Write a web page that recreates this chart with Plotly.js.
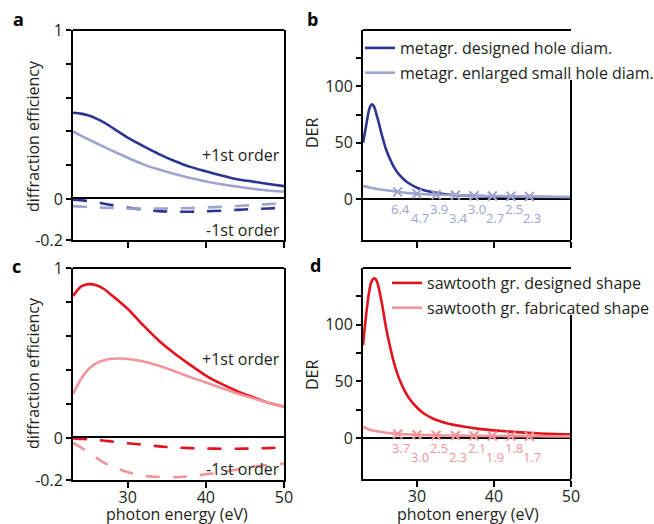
<!DOCTYPE html>
<html>
<head>
<meta charset="utf-8">
<script src="https://cdn.plot.ly/plotly-3.0.1.min.js"></script>
<style>html,body{margin:0;padding:0;background:#fff;}#chart{width:654px;height:524px;}</style>
</head>
<body>
<div id="chart"></div>
<script>
// ---------------- data ----------------
const energy = [23,24,25,26,27,28,29,30,32,34,36,38,40,42,44,46,48,50];
// panel a: metagrating diffraction efficiency
const metaDesignedPlus1  = [0.51,0.505,0.494,0.476,0.452,0.423,0.393,0.363,0.313,0.266,0.225,0.19,0.164,0.139,0.117,0.103,0.089,0.076];
const metaEnlargedPlus1  = [0.40,0.375,0.352,0.33,0.308,0.286,0.265,0.244,0.205,0.174,0.148,0.124,0.104,0.087,0.073,0.061,0.05,0.043];
const metaDesignedMinus1 = [-0.003,-0.006,-0.01,-0.016,-0.023,-0.03,-0.036,-0.042,-0.052,-0.059,-0.062,-0.062,-0.06,-0.057,-0.053,-0.049,-0.046,-0.043];
const metaEnlargedMinus1 = [-0.035,-0.037,-0.039,-0.041,-0.043,-0.044,-0.045,-0.046,-0.047,-0.047,-0.046,-0.044,-0.041,-0.038,-0.034,-0.03,-0.025,-0.021];
// panel c: sawtooth diffraction efficiency
const sawDesignedPlus1   = [0.835,0.89,0.905,0.898,0.875,0.838,0.80,0.76,0.662,0.572,0.497,0.43,0.367,0.318,0.276,0.241,0.207,0.184];
const sawFabPlus1        = [0.26,0.345,0.405,0.44,0.458,0.466,0.468,0.465,0.45,0.425,0.393,0.358,0.327,0.294,0.262,0.234,0.207,0.184];
const sawDesignedMinus1  = [-0.002,-0.004,-0.006,-0.009,-0.013,-0.017,-0.021,-0.025,-0.032,-0.04,-0.045,-0.048,-0.05,-0.051,-0.051,-0.05,-0.048,-0.045];
const sawFabMinus1       = [-0.023,-0.045,-0.068,-0.095,-0.118,-0.135,-0.15,-0.163,-0.18,-0.186,-0.187,-0.182,-0.173,-0.162,-0.15,-0.137,-0.128,-0.122];
// DER curves
const energyDER = [23,23.25,23.5,23.75,24,24.25,24.5,24.75,25,25.25,25.5,25.75,26,26.5,27,27.5,28,28.5,29,30,31,32,33,34,35,36,38,40,42,44,46,48,50];
const metaDesignedDER = [50,59,69,78,83,84,81,75,69,62,55.5,49.5,44,35.5,28.5,23.4,19.5,16.3,13.8,10,7.7,6.2,4.9,4.0,3.5,3.1,2.6,2.3,2.0,1.9,1.75,1.6,1.5];
const sawDesignedDER  = [82,99,114,127,136,140,141,139,134,126,117,107,97,81,67,56,47.5,40.5,35,27,21.3,17.6,15,13,11.5,10.2,8.2,6.9,5.8,4.9,4.1,3.6,3.2];
const energyDERlow = [23,24,25,26,27,28,29,30,31,32,33,34,35,36,37,38,39,40,42,44,46,48,50];
const metaEnlargedDER = [11.5,10.0,8.8,7.8,6.9,6.0,5.3,4.75,4.35,4.05,3.8,3.58,3.4,3.22,3.06,2.93,2.8,2.68,2.5,2.35,2.22,2.1,2.0];
const sawFabDER       = [9.8,7.3,5.8,4.8,4.0,3.5,3.2,3.0,2.8,2.6,2.45,2.37,2.3,2.2,2.12,2.04,1.96,1.9,1.81,1.73,1.65,1.58,1.5];
// marked points
const markerEnergy = [27.5,30.0,32.5,35.0,37.4,39.8,42.2,44.6];
const metaRatio    = [6.4,4.7,3.9,3.4,3.0,2.7,2.5,2.3];
const sawRatio     = [3.7,3.0,2.5,2.3,2.1,1.9,1.8,1.7];
// tick labels
const energyTicks = [30,40,50];
const effTicks = [0,0.2,0.4,0.6,0.8,1];
const effTickText = ['0','','','','','1'];
const derTicks = [0,25,50,75,100,125];
const derTickText = ['0','','50','','100',''];

// ---------------- style ----------------
const W = 654, H = 524;
const X = px => px / W;
const Y = py => 1 - py / H;
const FONT = 'Open Sans, Noto Sans, sans-serif';
const C = {navy:'#2b3590', lav:'#9ea3d0', red:'#e3131e', pink:'#f2949a', ink:'#000', text:'#231f20'};
const dash = '14px,13px';

function line(x, y, color, xa, ya, opts) {
  return Object.assign({x:x, y:y, xaxis:xa, yaxis:ya, type:'scatter', mode:'lines',
    line:{color:color, width:2.6, shape:'spline', smoothing:0.6}, showlegend:false, hoverinfo:'skip'}, opts||{});
}
function dashed(x, y, color, xa, ya) {
  return line(x, y, color, xa, ya, {line:{color:color, width:2.6, dash:dash, shape:'spline', smoothing:0.6}});
}
const traces = [
  line(energy, metaDesignedPlus1, C.navy, 'x', 'y'),
  line(energy, metaEnlargedPlus1, C.lav, 'x', 'y'),
  dashed(energy, metaDesignedMinus1, C.navy, 'x', 'y2'),
  dashed(energy, metaEnlargedMinus1, C.lav, 'x', 'y2'),
  line(energyDER, metaDesignedDER, C.navy, 'x2', 'y3', {showlegend:true, name:'metagr. designed hole diam.', legend:'legend', legendgroup:'m1'}),
  line(energyDERlow, metaEnlargedDER, C.lav, 'x2', 'y3', {showlegend:true, name:'metagr. enlarged small hole diam.', legend:'legend', legendgroup:'m2'}),
  {x:markerEnergy, y:metaRatio, xaxis:'x2', yaxis:'y3', type:'scatter', mode:'markers', showlegend:false, hoverinfo:'skip',
   marker:{symbol:'x-thin', size:9, color:C.lav, line:{color:C.lav, width:2}}},
  line(energy, sawDesignedPlus1, C.red, 'x3', 'y4'),
  line(energy, sawFabPlus1, C.pink, 'x3', 'y4'),
  dashed(energy, sawDesignedMinus1, C.red, 'x3', 'y5'),
  dashed(energy, sawFabMinus1, C.pink, 'x3', 'y5'),
  line(energyDER, sawDesignedDER, C.red, 'x4', 'y6', {showlegend:true, name:'sawtooth gr. designed shape', legend:'legend2', legendgroup:'s1'}),
  line(energyDERlow, sawFabDER, C.pink, 'x4', 'y6', {showlegend:true, name:'sawtooth gr. fabricated shape', legend:'legend2', legendgroup:'s2'}),
  {x:markerEnergy, y:sawRatio, xaxis:'x4', yaxis:'y6', type:'scatter', mode:'markers', showlegend:false, hoverinfo:'skip',
   marker:{symbol:'x-thin', size:9, color:C.pink, line:{color:C.pink, width:2}}}
];

const axBase = {showline:true, linecolor:C.ink, linewidth:2, showgrid:false, zeroline:false,
  ticks:'outside', ticklen:5, tickwidth:2, tickcolor:C.ink, tickfont:{family:FONT, size:16, color:C.text}, fixedrange:true};
function xAx(d0, d1, anchor, labels, mirror) {
  return Object.assign({}, axBase, {domain:[X(d0), X(d1)], anchor:anchor, range:[23,50],
    tickmode:'array', tickvals:energyTicks, ticktext: labels ? energyTicks.map(String) : ['','',''],
    ticklen:6, mirror:mirror, ticklabelstandoff:-4});
}
function yAx(t, b, anchor, range, vals, text, mirror) {
  return Object.assign({}, axBase, {domain:[Y(b), Y(t)], anchor:anchor, range:range,
    tickmode:'array', tickvals:vals, ticktext:text, mirror:mirror});
}
const derExtra = {zeroline:true, zerolinecolor:C.ink, zerolinewidth:2};
const legFont = {family:FONT, size:16, color:C.text};
const edge = {color:C.ink, width:2};
const layout = {
  width:W, height:H, margin:{l:0,r:0,t:0,b:0,autoexpand:false}, paper_bgcolor:'#fff', plot_bgcolor:'rgba(0,0,0,0)',
  font:{family:FONT, size:16, color:C.text},
  xaxis:  xAx(73, 284, 'y2', false, true),
  yaxis:  yAx(30, 199, 'x', [0,1], effTicks, effTickText, true),
  yaxis2: yAx(199, 240, 'x', [-0.2,0], [-0.2], ['-0.2'], true),
  xaxis2: xAx(363, 571, 'y3', false, false),
  yaxis3: Object.assign(yAx(30, 240, 'x2', [-36.3,150], derTicks, derTickText, false), derExtra),
  xaxis3: xAx(73, 284, 'y5', true, true),
  yaxis4: yAx(268, 438, 'x3', [0,1], effTicks, effTickText, true),
  yaxis5: yAx(438, 480, 'x3', [-0.2,0], [-0.2], ['-0.2'], true),
  xaxis4: xAx(363, 571, 'y6', true, false),
  yaxis6: Object.assign(yAx(268, 479, 'x4', [-36,150], derTicks, derTickText, false), derExtra),
  legend:  {x:X(360), y:Y(31), xanchor:'left', yanchor:'top', bgcolor:'rgba(0,0,0,0)', borderwidth:0, tracegroupgap:1, font:legFont},
  legend2: {x:X(387), y:Y(266), xanchor:'left', yanchor:'top', bgcolor:'rgba(0,0,0,0)', borderwidth:0, tracegroupgap:1, font:legFont},
  shapes: [
    // top edges
    {type:'line', xref:'x domain', yref:'y domain', x0:0, x1:1, y0:1, y1:1, line:edge},
    {type:'line', xref:'x3 domain', yref:'y4 domain', x0:0, x1:1, y0:1, y1:1, line:edge},
    {type:'line', xref:'x2 domain', yref:'y3 domain', x0:0, x1:1, y0:1, y1:1, line:edge},
    {type:'line', xref:'x4 domain', yref:'y6 domain', x0:0, x1:1, y0:1, y1:1, line:edge},
    // right edges of DER panels, interrupted by the legends
    {type:'line', xref:'x2 domain', yref:'y3 domain', x0:1, x1:1, y0:0, y1:0.762, line:edge},
    {type:'line', xref:'x4 domain', yref:'y6 domain', x0:1, x1:1, y0:0, y1:0.777, line:edge}
  ],
  annotations: [],
  showlegend:true
};
const A = layout.annotations;
function txt(text, x, y, o) {
  A.push(Object.assign({text:text, x:x, y:y, xref:'paper', yref:'paper', xanchor:'center', yanchor:'middle', showarrow:false,
    font:{family:FONT, size:16, color:C.text}}, o||{}));
}
const bold = {font:{family:FONT, size:18, color:C.ink}};
txt('<b>a</b>', X(18), Y(19), bold);
txt('<b>b</b>', X(312), Y(19), bold);
txt('<b>c</b>', X(16), Y(266), bold);
txt('<b>d</b>', X(315), Y(265), bold);
txt('diffraction efficiency', X(33), Y(136), {textangle:-90});
txt('diffraction efficiency', X(33), Y(373), {textangle:-90});
txt('DER', X(312), Y(133), {textangle:-90});
txt('DER', X(312), Y(375), {textangle:-90});
txt('photon energy (eV)', X(177), Y(514));
txt('photon energy (eV)', X(468), Y(514));
// order labels (in data coordinates)
function ord(text, xa, ya, y) {
  A.push({text:text, x:50, y:y, xref:xa, yref:ya, xanchor:'right', yanchor:'middle', xshift:-2, showarrow:false,
    font:{family:FONT, size:16, color:C.text}});
}
ord('+1st order', 'x', 'y', 0.26);
ord('-1st order', 'x', 'y2', -0.151);
ord('+1st order', 'x3', 'y4', 0.464);
ord('-1st order', 'x3', 'y5', -0.146);
// ratio labels below marked points
markerEnergy.forEach((e, i) => {
  A.push({text:metaRatio[i].toFixed(1), x:e, y:0, xref:'x2', yref:'y3', xanchor:'center', yanchor:'middle',
    xshift:3, yshift:(i%2 ? -19 : -10), showarrow:false, font:{family:FONT, size:13, color:C.lav}});
  A.push({text:sawRatio[i].toFixed(1), x:e, y:0, xref:'x4', yref:'y6', xanchor:'center', yanchor:'middle',
    xshift:3, yshift:(i%2 ? -19 : -10), showarrow:false, font:{family:FONT, size:13, color:C.pink}});
});
Plotly.newPlot('chart', traces, layout, {staticPlot:true, displayModeBar:false});
</script>
</body>
</html>
